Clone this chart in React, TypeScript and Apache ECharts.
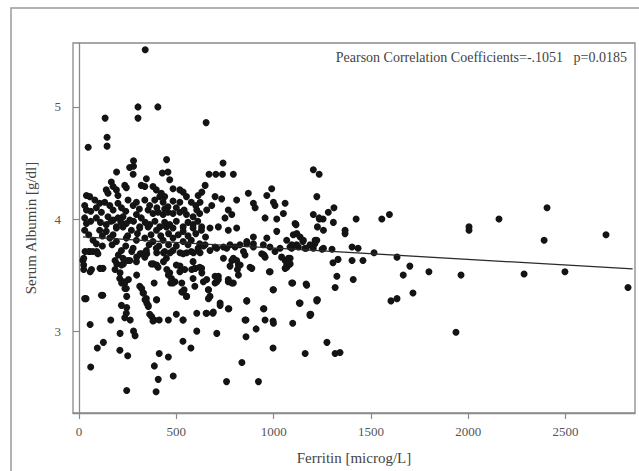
import React, { useEffect, useRef } from "react";
import * as echarts from "echarts";

const ferritin: number[] = [
  340, 134, 303, 303, 405, 653, 47, 144, 144, 450, 280, 280, 260, 193, 740, 668, 703, 737, 793, 1204, 1234,
  2405, 2158, 1595, 1556, 1424, 1367, 1367, 1310, 1281, 1254, 1307, 2004, 2004, 2390, 2708, 2821, 2497, 2287, 1963,
  1937, 1798, 1716, 1700, 1666, 1634, 1603, 1634, 1516, 1459, 1403, 1409, 1403, 1434, 1325, 1316, 1305, 1331, 1300,
  1249, 1274, 1316, 1341,
  1222, 1204, 1235, 1225, 1115, 1101, 1119, 1136, 1150, 1213, 1093, 1167, 1085, 1085, 1167, 1098, 1132, 1225, 1098,
  1191, 1162,
  20, 57, 36, 57, 60, 94, 125, 122, 163, 211, 210, 245, 250, 245, 235, 263, 288, 280, 387, 396, 407, 412, 459, 484,
  387, 412, 459, 534, 575, 534, 605, 653, 688, 708, 725, 770, 758, 837, 858, 858, 862, 910, 922, 950, 997, 997, 997,
  1187, 1222, 978, 879, 1068, 950,
  194, 228, 250, 211, 231, 254, 236, 219, 245, 296, 322, 331, 348, 339, 356, 373, 386, 399, 382, 399, 434, 451, 459,
  471, 493, 519, 528, 528, 540, 553, 579, 596, 631, 639, 665, 673, 708, 716, 725, 767, 793, 814, 793, 819, 853, 31,
  57, 91, 108, 185, 185, 202, 271, 296, 314, 331, 348, 399, 434, 468, 519, 553, 588, 622, 673, 708, 742, 776, 827,
  862, 896, 947, 981, 1033, 1084, 1118, 1187, 1212, 1059, 1076, 24, 24,
  278, 428, 457, 346, 466, 166, 175, 235, 243, 140, 149, 192, 200, 320, 338, 380, 397, 423, 440, 483, 518, 535, 38,
  55, 81, 29, 38, 89, 106, 132, 158, 200, 218, 252, 278, 295, 338, 363, 389, 415, 432, 457, 483, 518, 552, 577, 612,
  29, 38, 89, 149, 175, 200, 226, 261, 295, 320, 355, 380, 406, 432, 457, 483, 518, 552, 586, 620, 140, 192, 243,
  312, 363, 415, 466, 535, 586,
  29, 106, 140, 192, 226, 269, 312, 355, 398, 449, 483, 535, 586, 629, 72, 89, 158, 192, 243, 295, 338, 380, 432,
  483, 535, 577, 620, 50, 72, 97, 218, 278, 320, 346, 397, 440, 483, 535, 577, 612, 24, 64, 123, 218, 226, 261, 295,
  338, 372, 406, 449, 500, 543, 586, 620, 209, 235, 243, 312, 329, 346, 355, 398, 466, 475, 483, 518, 535, 552, 586,
  595, 29, 115, 218, 243, 363, 380, 500, 535,
  648, 631, 870, 990, 965, 999, 1007, 1059, 1050, 896, 905, 810, 767, 785, 750, 699, 733, 682, 622, 656, 605, 956,
  1016, 1110, 1234,
  630, 673, 716, 767, 810, 1016, 1153, 1222, 1256, 965, 896, 862, 1067, 1093, 613, 648, 699, 759, 802, 845, 896, 939,
  1007, 1041, 1076, 1127, 1161, 1204, 1256, 742, 785, 810, 776, 828, 888, 956, 1067, 1059, 630, 596, 656, 699, 716,
  767, 785, 819, 699, 982, 1093, 1170, 665, 665, 656, 690, 767, 862, 948, 999, 1136, 1187, 1222, 605, 853, 956, 999,
  60, 115, 175, 240, 310, 400, 440, 500, 540, 600, 60, 110, 165, 215, 280, 340, 390, 440, 500, 560, 610, 50, 120,
  175, 250, 300, 370, 420, 460, 510, 560, 600, 650, 120, 170, 240, 360, 410, 460, 500, 560, 640,
];

const albumin: number[] = [
  5.51, 4.9, 5.0, 4.9, 5.0, 4.86, 4.64, 4.73, 4.65, 4.53, 4.52, 4.47, 4.46, 4.42, 4.5, 4.4, 4.4, 4.4, 4.4, 4.44, 4.4,
  4.1, 4.0, 4.04, 4.0, 4.0, 3.9, 3.87, 4.1, 4.06, 4.0, 3.97, 3.93, 3.9, 3.81, 3.86, 3.39, 3.53, 3.51, 3.5,
  2.99, 3.53, 3.34, 3.58, 3.5, 3.29, 3.27, 3.66, 3.7, 3.63, 3.63, 3.46, 3.75, 3.74, 3.49, 3.39, 3.61, 3.64, 3.73,
  3.73, 2.9, 2.8, 2.81,
  4.2, 4.04, 4.0, 3.93, 3.95, 3.86, 3.87, 3.84, 3.8, 3.81, 3.74, 3.74, 3.65, 3.6, 3.42, 3.43, 3.25, 3.28, 3.07,
  3.15, 2.8,
  3.63, 3.53, 3.29, 3.06, 2.68, 2.85, 2.9, 3.32, 3.1, 2.98, 2.83, 2.47, 2.78, 3.21, 3.12, 3.1, 2.96, 3.0, 2.69, 2.46,
  2.57, 2.8, 2.77, 2.6,
  3.1, 3.1, 3.1, 2.91, 2.85, 3.1, 3.0, 3.16, 3.16, 2.98, 3.23, 3.2, 2.55, 2.72, 3.1, 2.95, 3.27, 3.02, 2.55, 3.2,
  3.09, 3.37, 2.85,
  3.14, 3.27, 3.53, 3.57, 3.57, 3.68,
  3.6, 3.6, 3.63, 3.52, 3.44, 3.46, 3.38, 3.43, 3.31, 3.5, 3.38, 3.34, 3.25, 3.28, 3.22, 3.13, 3.43, 3.28, 3.6, 3.59,
  3.62, 3.55, 3.5, 3.43, 3.44, 3.58, 3.43, 3.35, 3.37, 3.31, 3.55, 3.56, 3.52, 3.44, 3.37, 3.31, 3.44, 3.49, 3.25,
  3.44, 3.43, 3.55, 3.65, 3.59, 3.68, 3.71, 3.71, 3.71, 3.56, 3.63, 3.55, 3.68, 3.71, 3.66, 3.69, 3.69, 3.69, 3.7,
  3.7, 3.7, 3.7, 3.7, 3.7, 3.7, 3.72, 3.74, 3.75, 3.77, 3.77, 3.78, 3.78, 3.77, 3.75, 3.74, 3.75, 3.77, 3.77, 3.78,
  3.63, 3.59, 3.59, 3.55,
  4.4, 4.41, 4.42, 4.36, 4.35, 4.33, 4.29, 4.3, 4.28, 4.26, 4.23, 4.26, 4.21, 4.3, 4.29, 4.29, 4.26, 4.23, 4.2, 4.27,
  4.26, 4.24, 4.21, 4.2, 4.17, 4.12, 4.08, 4.1, 4.14, 4.15, 4.12, 4.14, 4.1, 4.17, 4.12, 4.15, 4.17, 4.12, 4.17,
  4.2, 4.15, 4.11, 4.16, 4.15, 4.2, 4.15, 4.21, 4.01, 3.96, 4.01, 4.02, 3.99, 4.01, 4.02, 3.99, 4.04, 4.01, 4.08,
  4.05, 4.06, 4.04, 4.06, 4.05, 4.06, 4.04, 4.02, 4.05, 3.95, 3.93, 3.96, 3.93, 3.95, 3.93, 3.95, 3.93, 3.95,
  3.9, 3.9, 3.89, 3.92, 3.93, 3.9, 3.92, 3.93, 3.9, 3.93, 3.92, 3.89, 3.92, 3.9, 3.81, 3.78, 3.83, 3.8, 3.83, 3.81,
  3.83, 3.8, 3.81, 3.83, 3.8, 3.81, 3.78, 3.71, 3.71, 3.69, 3.72, 3.74, 3.69, 3.72, 3.74, 3.71, 3.72, 3.69, 3.71,
  3.74, 3.65, 3.55, 3.56, 3.59, 3.65, 3.63, 3.62, 3.66, 3.6, 3.57, 3.65, 3.59, 3.55, 3.62, 3.57, 3.47, 3.43, 3.38,
  3.4, 3.34, 3.29, 3.23, 3.28, 3.52, 3.47, 3.43, 3.53, 3.35, 3.31, 3.47, 3.4, 3.29, 3.32, 3.23, 3.16, 3.15, 3.09,
  3.15, 3.1,
  4.3, 4.24, 4.23, 4.27, 4.21, 4.15, 4.12, 4.14, 4.05, 4.14, 4.1, 4.17, 4.08, 4.04, 4.01, 4.2, 4.18, 4.12, 4.15,
  4.08, 4.08, 4.01, 4.0, 3.96, 4.01,
  3.93, 3.92, 3.93, 3.9, 3.92, 3.89, 3.81, 3.81, 3.9, 3.83, 3.84, 3.8, 3.81, 3.77, 3.72, 3.77, 3.75, 3.74, 3.75,
  3.71, 3.75, 3.69, 3.71, 3.66, 3.65, 3.75, 3.74, 3.74, 3.74, 3.65, 3.63, 3.63, 3.58, 3.59, 3.56, 3.66, 3.59, 3.56,
  3.56, 3.56, 3.46, 3.49, 3.46, 3.46, 3.43, 3.5, 3.43, 3.53, 3.43, 3.41, 3.37, 3.29, 3.16, 3.17, 3.2, 3.27, 3.2,
  3.37, 3.25, 3.15, 3.28, 3.16, 3.1, 3.1, 3.07,
  4.07, 4.06, 4.08, 4.07, 4.09, 4.1, 4.09, 4.1, 4.08, 4.12, 3.98, 3.97, 3.98, 3.97, 3.98, 3.97, 3.98, 3.97, 3.98,
  3.97, 3.98, 3.86, 3.85, 3.86, 3.85, 3.87, 3.86, 3.85, 3.87, 3.86, 3.85, 3.87, 3.84, 3.76, 3.77, 3.76, 3.77, 3.76,
  3.77, 3.76, 3.77, 3.76,
];

const fitX: number[] = [20, 2845];
const fitY: number[] = [3.84, 3.555];

const xTicks: number[] = [0, 500, 1000, 1500, 2000, 2500];
const yTicks: number[] = [3, 4, 5];

const annotation = "Pearson Correlation Coefficients=-.1051   p=0.0185";
const xTitle = "Ferritin [microg/L]";
const yTitle = "Serum Albumin [g/dl]";

export default function App() {
  const ref = useRef<HTMLDivElement>(null);

  useEffect(() => {
    if (!ref.current) return;
    const chart = echarts.init(ref.current, undefined, { renderer: "svg" });
    const n = Math.min(ferritin.length, albumin.length);
    const points: number[][] = [];
    for (let i = 0; i < n; i++) points.push([ferritin[i], albumin[i]]);
    const fit = fitX.map((x, i) => [x, fitY[i]]);
    const serif = "'Liberation Serif', 'Times New Roman', serif";

    chart.setOption({
      animation: false,
      backgroundColor: "#ffffff",
      grid: {
        left: 73,
        top: 43,
        right: 4,
        bottom: 58,
        show: true,
        borderColor: "#8a8a8a",
        borderWidth: 1.3,
        backgroundColor: "transparent",
      },
      xAxis: {
        type: "value",
        min: -31,
        max: 2857,
        name: xTitle,
        nameLocation: "middle",
        nameGap: 37,
        nameTextStyle: { fontFamily: serif, fontSize: 15, color: "#444" },
        axisLine: { show: true, lineStyle: { color: "#8a8a8a", width: 1.3 } },
        axisTick: { show: true, length: 6, customValues: xTicks, lineStyle: { color: "#8a8a8a", width: 1.2 } },
        axisLabel: {
          customValues: xTicks,
          margin: 12,
          fontFamily: serif,
          fontSize: 13,
          color: "#555",
          formatter: (v: number) => String(Math.round(v)),
        },
        splitLine: { show: false },
      },
      yAxis: {
        type: "value",
        min: 2.27,
        max: 5.57,
        name: yTitle,
        nameLocation: "middle",
        nameGap: 35,
        nameTextStyle: { fontFamily: serif, fontSize: 15, color: "#444" },
        axisLine: { show: true, lineStyle: { color: "#8a8a8a", width: 1.3 } },
        axisTick: { show: true, length: 6, customValues: yTicks, lineStyle: { color: "#8a8a8a", width: 1.2 } },
        axisLabel: {
          customValues: yTicks,
          margin: 12,
          fontFamily: serif,
          fontSize: 13,
          color: "#555",
          formatter: (v: number) => String(Math.round(v)),
        },
        splitLine: { show: false },
      },
      graphic: [
        {
          type: "rect",
          shape: { x: 11, y: 8, width: 700, height: 500 },
          style: { fill: "none", stroke: "#9a9a9a", lineWidth: 1.5 },
          silent: true,
        },
        {
          type: "text",
          x: 627,
          y: 57,
          style: {
            text: annotation,
            fill: "#444",
            font: "14px " + serif,
            textAlign: "right",
            textVerticalAlign: "middle",
          },
        },
      ],
      series: [
        {
          type: "scatter",
          data: points,
          symbol: "circle",
          symbolSize: 7,
          itemStyle: { color: "#141414", opacity: 1 },
          z: 2,
        },
        {
          type: "line",
          data: fit,
          showSymbol: false,
          symbol: "none",
          lineStyle: { color: "#2a2a2a", width: 1.3 },
          z: 3,
        },
      ],
    });
    return () => chart.dispose();
  }, []);

  return (
    <div
      ref={ref}
      style={{ position: "fixed", left: 0, top: 0, width: 639, height: 471, background: "#fff" }}
    />
  );
}
